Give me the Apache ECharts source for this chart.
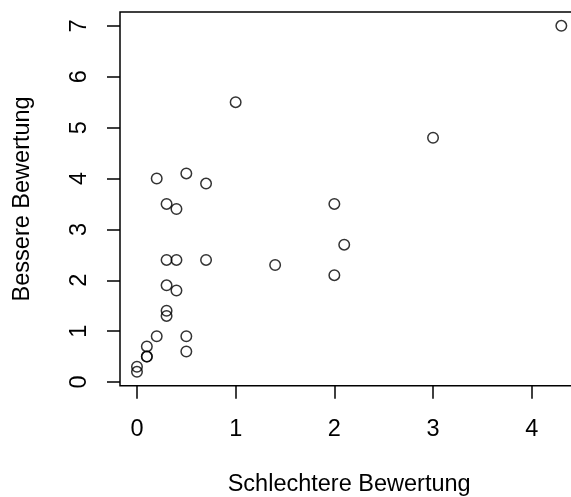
<!DOCTYPE html>
<html>
<head>
<meta charset="utf-8">
<script src="https://cdn.jsdelivr.net/npm/echarts@6/dist/echarts.min.js"></script>
<style>html,body{margin:0;padding:0;background:#fff}#c{width:571px;height:497px}</style>
</head>
<body>
<div id="c"></div>
<script>
var xValues = [0, 0, 0.1, 0.1, 0.1, 0.2, 0.5, 0.5, 0.3, 0.3, 0.3, 0.4, 0.3, 0.4, 0.7, 1.4, 2.0, 2.0, 0.3, 0.4, 0.7, 0.2, 0.5, 1.0, 2.1, 3.0, 4.3];
var yValues = [0.3, 0.2, 0.7, 0.5, 0.5, 0.9, 0.9, 0.6, 1.4, 1.3, 1.9, 1.8, 2.4, 2.4, 2.4, 2.3, 2.1, 3.5, 3.5, 3.4, 3.9, 4.0, 4.1, 5.5, 2.7, 4.8, 7.0];
var xTicks = [0, 1, 2, 3, 4];
var yTicks = [0, 1, 2, 3, 4, 5, 6, 7];
var xTitle = 'Schlechtere Bewertung';
var yTitle = 'Bessere Bewertung';

var points = xValues.map(function (x, i) { return [x, yValues[i]]; });
var font = 'Liberation Sans, Arial, sans-serif';
var fs = 23.5;
var chart = echarts.init(document.getElementById('c'), null, {renderer: 'canvas'});
chart.setOption({
  animation: false,
  backgroundColor: '#fff',
  grid: {left: 120, top: 12, width: 458.3, height: 373.7, outerBoundsMode: 'none', containLabel: false, show: true, borderColor: '#000', borderWidth: 1.5, backgroundColor: 'transparent'},
  xAxis: {
    type: 'value', min: -0.172, max: 4.472,
    name: xTitle, nameLocation: 'middle', nameGap: 87,
    nameTextStyle: {color: '#000', fontSize: fs, fontFamily: font},
    axisLine: {show: false, onZero: false},
    splitLine: {show: false},
    axisTick: {show: true, inside: false, length: 13, lineStyle: {color: '#000', width: 1.5}, customValues: xTicks},
    axisLabel: {color: '#000', fontSize: fs, fontFamily: font, margin: 32, customValues: xTicks, formatter: function (v) { return String(v); }}
  },
  yAxis: {
    type: 'value', min: -0.072, max: 7.272,
    name: yTitle, nameLocation: 'middle', nameGap: 85,
    nameTextStyle: {color: '#000', fontSize: fs, fontFamily: font},
    axisLine: {show: false, onZero: false},
    splitLine: {show: false},
    axisTick: {show: true, inside: false, length: 13, lineStyle: {color: '#000', width: 1.5}, customValues: yTicks},
    axisLabel: {color: '#000', fontSize: fs, fontFamily: font, margin: 28, rotate: 90, customValues: yTicks, formatter: function (v) { return String(v); }}
  },
  series: [{
    type: 'scatter',
    data: points,
    symbol: 'circle',
    symbolSize: 10.5,
    itemStyle: {color: 'transparent', borderColor: '#000', borderWidth: 1.5},
    emphasis: {disabled: true}
  }]
});
</script>
</body>
</html>
